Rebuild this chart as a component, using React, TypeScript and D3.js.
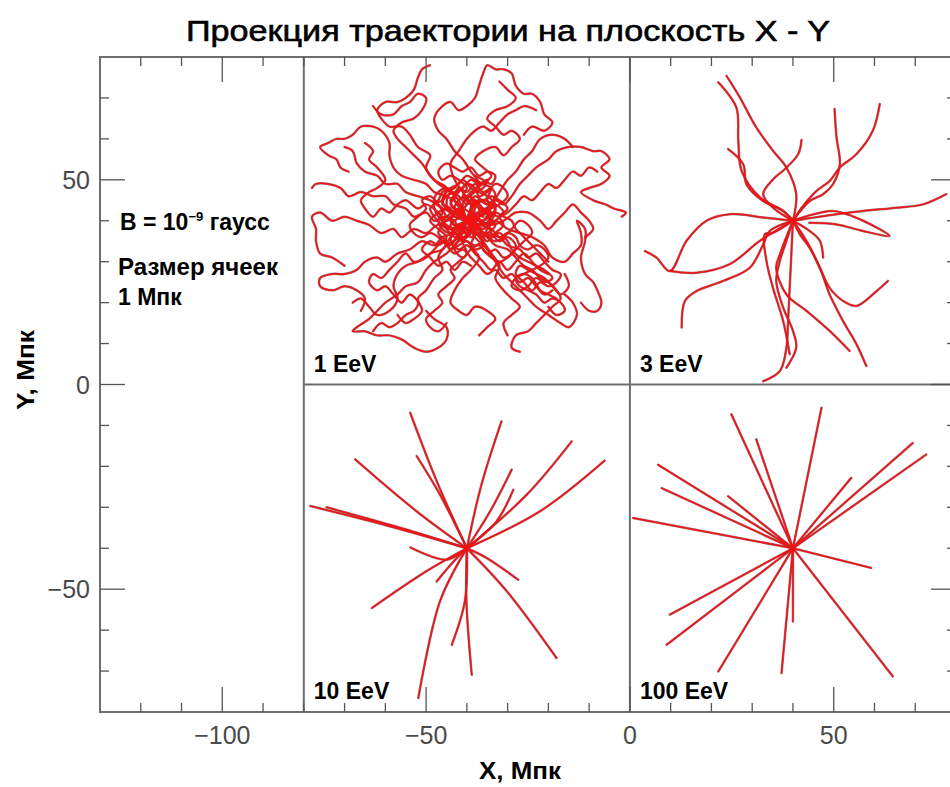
import React from "react";
import * as d3 from "d3";

type Pt = [number, number];

// Axis extents (Mpc)
const X_DOMAIN: [number, number] = [-130, 80];
const Y_DOMAIN: [number, number] = [-80, 80];

const X_TICKS = [-120, -110, -100, -90, -80, -70, -60, -50, -40, -30, -20, -10, 0, 10, 20, 30, 40, 50, 60, 70];
const Y_TICKS = [-70, -60, -50, -40, -30, -20, -10, 0, 10, 20, 30, 40, 50, 60, 70];
const X_LABELS = [-100, -50, 0, 50];
const Y_LABELS = [-50, 0, 50];

const PANEL_LABELS = ["1 EeV", "3 EeV", "10 EeV", "100 EeV"];

// 1 EeV: strongly diffusive trajectories around the source at (-40, 40)
const traj1: Pt[][] = [
  [[-40,40],[-42,43],[-44,42],[-46,45],[-45,48],[-48,50],[-50,53],[-49,56],[-52,58],[-54,61],[-56,63],[-59,63],[-61,65],[-62,67],[-60,69],[-57,69],[-55,70],[-53,72],[-52,75],[-51,77],[-49,78]],
  [[-40,40],[-38,43],[-39,46],[-37,49],[-39,52],[-41,55],[-43,57],[-45,60],[-47,62],[-48,65],[-46,68],[-44,69],[-42,67],[-40,68],[-38,70],[-37,73],[-36,76],[-35,78],[-33,77],[-31,77],[-29,76],[-28,73],[-26,71],[-24,71],[-22,69],[-21,66],[-19,64],[-21,62],[-24,63],[-26,61]],
  [[-40,40],[-37,41],[-35,43],[-33,45],[-31,44],[-29,46],[-27,49],[-25,51],[-23,53],[-20,55],[-18,57],[-15,58],[-12,58],[-9,57],[-7,57],[-5,55],[-7,53],[-5,51],[-7,49],[-10,48],[-12,47],[-9,45],[-6,44],[-4,43],[-1,42],[-2,41]],
  [[-40,40],[-43,39],[-45,41],[-48,40],[-50,42],[-53,41],[-55,43],[-58,44],[-60,46],[-63,46],[-66,47],[-69,46],[-71,48],[-74,49],[-77,49],[-78,48]],
  [[-40,40],[-42,44],[-45,46],[-48,47],[-50,49],[-53,50],[-56,51],[-58,53],[-59,56],[-59,59],[-61,62],[-63,63],[-66,63],[-68,61],[-70,60],[-72,60],[-74,59],[-76,58],[-74,56],[-72,55],[-71,53],[-69,52]],
  [[-40,40],[-43,37],[-46,36],[-48,34],[-51,35],[-54,33],[-57,32],[-60,30],[-62,31],[-65,30],[-67,28],[-70,27],[-73,27],[-76,26],[-76,24],[-73,23],[-70,24],[-67,23],[-65,21],[-66,18]],
  [[-40,40],[-44,38],[-47,39],[-50,37],[-53,38],[-56,36],[-58,38],[-61,37],[-64,39],[-67,40],[-70,41],[-73,40],[-76,42],[-78,41],[-77,38],[-77,35],[-76,32],[-73,31],[-70,29]],
  [[-40,40],[-41,37],[-43,34],[-45,32],[-48,30],[-50,28],[-52,25],[-55,24],[-57,22],[-60,20],[-62,18],[-64,16],[-67,14],[-68,13],[-65,13],[-62,12],[-59,12],[-56,11],[-53,9],[-50,8],[-47,9],[-45,11],[-45,14],[-48,16],[-50,18]],
  [[-40,40],[-38,37],[-39,34],[-37,31],[-39,28],[-41,26],[-43,23],[-44,20],[-42,18],[-40,17],[-38,19],[-35,18],[-33,16],[-35,14],[-37,12]],
  [[-40,40],[-37,38],[-35,36],[-33,34],[-30,33],[-28,31],[-26,29],[-24,28],[-22,26],[-20,25],[-18,23],[-17,21],[-19,19],[-21,17],[-23,15],[-25,13],[-28,12],[-29,9],[-27,8]],
  [[-40,40],[-36,39],[-33,40],[-30,38],[-27,37],[-24,36],[-21,34],[-19,31],[-16,30],[-14,32],[-12,34],[-12,37],[-13,40],[-11,38],[-11,35],[-12,31],[-11,27],[-9,25],[-8,23],[-7,20],[-8,18],[-10,18],[-12,20]],
  [[-40,40],[-38,36],[-35,33],[-33,30],[-31,27],[-29,25],[-27,23],[-25,21],[-23,19],[-20,17],[-17,15],[-15,14],[-13,17],[-14,20],[-16,22]],
  [[-40,40],[-39,44],[-41,47],[-43,50],[-44,54],[-42,57],[-40,60],[-38,62],[-36,63],[-34,62],[-32,64],[-30,66],[-28,67],[-26,68],[-23,67]],
  [[-40,40],[-37,42],[-34,44],[-32,47],[-30,50],[-28,52],[-26,55],[-24,57],[-22,60],[-19,61],[-16,60],[-14,58]],
  [[-40,40],[-43,42],[-46,43],[-49,45],[-52,46],[-55,47],[-57,49],[-60,49],[-62,51],[-65,52],[-67,54],[-68,57],[-70,58]],
  [[-40,40],[-44,36],[-46,33],[-49,32],[-52,30],[-55,29],[-57,27],[-58,24],[-57,21],[-59,18],[-62,17],[-64,19],[-66,21],[-68,20]],
  [[-40,40],[-42,36],[-45,34],[-47,31],[-46,28],[-48,26],[-50,23],[-52,21],[-51,18],[-53,16],[-55,15],[-57,17]],
  [[-40,40],[-38,38],[-36,35],[-34,32],[-32,29],[-33,26],[-31,23],[-29,21],[-27,19],[-29,17],[-31,15],[-30,12]],
  [[-40,40],[-38,42],[-36,41],[-37,44],[-39,45],[-41,43],[-43,45],[-42,48],[-40,47],[-38,49],[-36,47],[-34,48],[-35,45],[-33,43],[-34,40],[-36,38],[-38,39],[-40,37],[-42,38],[-44,40],[-43,42],[-41,41]],
  [[-40,40],[-41,38],[-39,36],[-37,37],[-35,35],[-33,37],[-31,39],[-32,41],[-30,43],[-32,45],[-34,46],[-36,45],[-38,46],[-40,44],[-42,46],[-44,47],[-45,44],[-44,42],[-46,40],[-45,38],[-43,36],[-41,35]],
  [[-40,40],[-39,42],[-37,40],[-35,39],[-34,37],[-32,35],[-30,36],[-28,34],[-29,32],[-31,31],[-33,33],[-35,32],[-37,34],[-39,33],[-41,31],[-43,33],[-42,35],[-40,36]],
  [[-40,40],[-42,41],[-41,43],[-39,42],[-38,45],[-36,43],[-34,42],[-36,40],[-38,41],[-37,38],[-35,37],[-33,39],[-35,41],[-33,42],[-31,41],[-29,40],[-28,38],[-26,36],[-24,34],[-22,32],[-20,30]],
  [[-40,40],[-43,41],[-45,43],[-47,42],[-49,40],[-47,38],[-45,36],[-47,34],[-49,35],[-51,33],[-49,31],[-47,29],[-45,30],[-43,28],[-41,30],[-39,29]],
  [[-40,40],[-39,38],[-41,36],[-43,37],[-44,35],[-42,33],[-40,34],[-38,32],[-36,30],[-34,28],[-32,30],[-30,28],[-28,30],[-26,32],[-24,30],[-22,28],[-20,27]],
  [[-40,40],[-36,37],[-32,36],[-30,34],[-27,33],[-25,31],[-23,32],[-21,30],[-19,28],[-17,27],[-18,25],[-20,24],[-22,25],[-24,23],[-26,25],[-28,27],[-27,29],[-25,28],[-23,27],[-21,26],[-19,24],[-17,22],[-15,24],[-16,27]],
  [[-40,40],[-41,42],[-43,43],[-44,45],[-42,47],[-40,49],[-38,48],[-37,46],[-35,47],[-33,49],[-31,48],[-30,46],[-32,44],[-34,43],[-36,42],[-38,40],[-37,38],[-35,36],[-33,35],[-31,36],[-29,38],[-27,40],[-25,39],[-24,37],[-26,35],[-28,33],[-30,31],[-32,30],[-34,31],[-36,33]],
  [[-40,40],[-42,39],[-44,37],[-46,38],[-47,40],[-46,42],[-47,44],[-49,46],[-51,45],[-50,43],[-52,41],[-54,39],[-53,37],[-51,36],[-49,37],[-47,36],[-45,34],[-43,32],[-41,33],[-39,31],[-37,29],[-35,27],[-33,28],[-31,26],[-29,27],[-27,25],[-25,26],[-23,24],[-21,22],[-19,23]],
  [[-40,40],[-38,41],[-37,43],[-39,44],[-41,46],[-40,48],[-42,50],[-44,51],[-46,50],[-47,52],[-45,54],[-43,53],[-41,52],[-39,53],[-37,51],[-35,52],[-33,51],[-34,49],[-36,50],[-38,51]],
  [[-40,40],[-37,39],[-34,38],[-32,36],[-30,37],[-28,36],[-27,34],[-25,33],[-23,34],[-21,33],[-20,31],[-22,29],[-24,28],[-26,27],[-28,26],[-27,24],[-25,23],[-23,22],[-21,20],[-19,21],[-17,20],[-16,18],[-18,17],[-20,19]],
  [[-40,40],[-41,44],[-39,47],[-36,49],[-34,51],[-36,53],[-38,55],[-36,57],[-33,58],[-31,56],[-29,58],[-27,60],[-29,62],[-31,61],[-33,63],[-35,65],[-33,67],[-30,68],[-28,70],[-30,72],[-32,74]],
  [[-40,40],[-42,42],[-45,40],[-47,42],[-50,44],[-52,43],[-55,45],[-57,44],[-59,42],[-61,43],[-63,41],[-65,43],[-66,45],[-64,47],[-62,48],[-60,50],[-62,53],[-64,55],[-63,57],[-65,59]],
  [[-40,40],[-42,37],[-44,34],[-46,35],[-48,33],[-50,31],[-53,30],[-55,32],[-57,30],[-59,28],[-61,26],[-63,27],[-64,25],[-62,23],[-60,24],[-58,22],[-56,20],[-54,22],[-52,20],[-53,18],[-55,17],[-57,15],[-59,14],[-61,15],[-63,13]],
  [[-40,40],[-37,41],[-35,42],[-32,41],[-30,42],[-28,44],[-26,46],[-24,45],[-22,47],[-20,49],[-18,48],[-16,50],[-14,52],[-12,51],[-10,53],[-8,52]],
  [[-40,40],[-42,45],[-44,47],[-47,49],[-49,51],[-51,54],[-53,56],[-55,58],[-57,60],[-58,62],[-56,64],[-53,65],[-51,67],[-50,70],[-52,71],[-54,69],[-56,68],[-58,66],[-61,66],[-63,68]],
  [[-40,40],[-39,37],[-41,35],[-40,32],[-42,30],[-44,28],[-43,26],[-45,24],[-47,22],[-46,20],[-48,18],[-50,16],[-49,14],[-47,13],[-45,15]],
  [[-40,40],[-37,40],[-34,39],[-31,40],[-28,42],[-25,42],[-22,40],[-20,38],[-18,40],[-16,42],[-14,44],[-12,42],[-10,40],[-9,38],[-11,36]],
  [[-40,40],[-39,41],[-38,39],[-36,40],[-35,42],[-37,43],[-38,45],[-40,46],[-42,45],[-43,43],[-42,41],[-44,39],[-43,37],[-41,37],[-39,38],[-37,36],[-36,34],[-38,33],[-40,35],[-42,34],[-44,33],[-45,35],[-47,37],[-46,39],[-44,41]],
  [[-40,40],[-38,41],[-36,39],[-34,41],[-33,44],[-35,46],[-37,47],[-39,48],[-41,50],[-43,48],[-45,47],[-46,45],[-48,44],[-47,41],[-45,39],[-43,38],[-41,39]],
  [[-40,40],[-41,42],[-43,41],[-44,43],[-46,44],[-45,46],[-43,47],[-41,48],[-39,50],[-37,49],[-35,50],[-36,48],[-38,47],[-40,45],[-38,44],[-36,45],[-34,44],[-35,42],[-37,41],[-39,39],[-41,38],[-43,39]],
  [[-40,40],[-38,39],[-36,37],[-34,36],[-32,37],[-30,35],[-29,33],[-27,31],[-25,30],[-23,29],[-21,28],[-19,26],[-21,25],[-23,26],[-25,24],[-27,23],[-29,24],[-28,26],[-26,27],[-24,26],[-22,23],[-20,22],[-18,21]],
  [[-40,40],[-42,42],[-44,44],[-43,46],[-45,48],[-47,47],[-48,45],[-46,43],[-45,41],[-43,40],[-42,38],[-40,38],[-38,37],[-36,36],[-35,38],[-33,40],[-31,42],[-33,44],[-35,44],[-37,45],[-39,43]],
  [[-40,40],[-39,43],[-37,45],[-35,44],[-33,46],[-34,48],[-36,49],[-38,50],[-40,51],[-42,49],[-44,48],[-46,47],[-47,45],[-49,43],[-48,41],[-46,39],[-44,38],[-42,36],[-40,35],[-38,34],[-36,35]],
];

// 3 EeV: curved trajectories from the source at (40, 40)
const traj3: Pt[][] = [
  [[40,40],[40.8,46.5],[38.4,53],[35.1,57.1],[31,62.8],[27,70.1],[23.7,75.4]],
  [[40,40],[37.6,42.4],[31.9,45.7],[27.4,52.2],[26.6,59.5],[26.1,67.7],[21.7,73.8]],
  [[40,40],[35.1,43.2],[32.7,46.5],[35.1,50.1],[38,52.6],[41.3,56.3],[42.1,59.7]],
  [[40,40],[37.6,42.4],[32.7,44.8],[28.6,48.9],[27.8,53.8],[24.1,57.5]],
  [[40,40],[44.1,44.8],[47.4,46.5],[49.8,48.9],[51.5,53.8],[50.7,60.3],[50.2,67.3]],
  [[40,40],[42,43],[45.8,47.3],[49,49.7],[51.5,53],[55.6,56.3],[59.6,62],[61.3,68.5]],
  [[40,40],[50.7,41.6],[57.2,42.4],[65.4,43.2],[71.9,44],[77.6,46.5]],
  [[40,40],[49.8,42.4],[57.2,40],[63.7,36.3],[57.2,37.5],[50.7,39.1],[44,39.5]],
  [[40,40],[32.7,40.8],[24.5,41.6],[18.8,40],[13.9,35.1],[9.8,27.7],[6.5,31],[3.7,32.6]],
  [[40,40],[31.9,35.1],[24.5,29.4],[16.3,27.3],[9.8,27.7]],
  [[40,40],[34.3,37.5],[32.7,34.2],[29.4,28.5],[22.9,25.3],[16.3,22.8],[13.5,20.4],[12.7,13.9]],
  [[40,40],[39.6,31.8],[39.2,23.6],[38.8,15.5],[38.4,9],[36.8,3.3],[32.7,0.8]],
  [[40,40],[38.4,35.1],[36.8,30.2],[35.9,25.3],[37.6,18.8],[40,13.1],[40.8,9],[38.4,4.1]],
  [[40,40],[35,37],[33.1,36.7],[33.5,30.2],[35.1,23.6],[37.6,15.5],[39.2,7.4]],
  [[40,40],[43.3,35.1],[46.6,28.5],[49,22],[52.3,15.5],[55.6,9.8],[58,4.5]],
  [[40,40],[36.8,31.8],[35.9,28.5],[38.4,22],[43.3,18],[49,13.1],[53.9,8.2]],
  [[40,40],[41.7,36.7],[44.1,33.4],[46.6,28.5],[49,23.6],[52.3,20.4],[55.6,19.2],[60.5,22.8],[63.3,25.3]],
  [[40,40],[44.1,37.5],[46.6,35.1],[47.4,31]],
];

// 10 EeV: nearly straight trajectories from (-40, -40)
const traj10: Pt[][] = [
  [[-40,-40],[-47.4,-23.6],[-53.9,-6.9]],
  [[-40,-40],[-46.6,-26.9],[-52.3,-17.5]],
  [[-40,-40],[-52.3,-31],[-67.4,-18.3]],
  [[-40,-40],[-60.5,-34.2],[-78.4,-29.7]],
  [[-40,-40],[-56.4,-35],[-74.4,-30]],
  [[-40,-40],[-36.4,-24.4],[-31.5,-9]],
  [[-40,-40],[-34.3,-31],[-29,-20.8]],
  [[-40,-40],[-32.7,-33.4],[-28.6,-25.7]],
  [[-40,-40],[-25.3,-26.9],[-14.3,-13.9]],
  [[-40,-40],[-22.1,-31],[-6.2,-18.6]],
  [[-40,-40],[-45,-42.8],[-53.9,-39.8]],
  [[-40,-40],[-49.9,-45.6],[-63.3,-54.6]],
  [[-40,-40],[-46.6,-53],[-51.9,-76.6]],
  [[-40,-40],[-40.5,-53],[-43.7,-63.6]],
  [[-40,-40],[-40.1,-53],[-38.8,-70.9]],
  [[-40,-40],[-35.1,-42.4],[-27.4,-47.7]],
  [[-40,-40],[-30.2,-50.5],[-18,-66.8]],
  [[-40,-40],[-43.5,-43.5],[-47.4,-48.1]],
];

// 100 EeV: straight rays from (40, -40)
const traj100: Pt[][] = [
  [[40,-40],[47,-5.7]],
  [[40,-40],[24.9,-7.3]],
  [[40,-40],[31,-13.4]],
  [[40,-40],[6.9,-19.6]],
  [[40,-40],[7.8,-25.3]],
  [[40,-40],[24.1,-27.3]],
  [[40,-40],[0.8,-32.6]],
  [[40,-40],[69.4,-14.3]],
  [[40,-40],[72.7,-17.1]],
  [[40,-40],[54.3,-22.8]],
  [[40,-40],[59.2,-44.8]],
  [[40,-40],[64.5,-71.3]],
  [[40,-40],[40,-57.9]],
  [[40,-40],[37.2,-70.5]],
  [[40,-40],[21.7,-70.1]],
  [[40,-40],[9,-63.6]],
  [[40,-40],[9.8,-56.2]],
];

const W = 950;
const H = 787;
const PLOT = { left: 100, right: 956, top: 57, bottom: 712 };
const FONT = "'Liberation Sans', Arial, Helvetica, sans-serif";

export default function App() {
  const x = d3.scaleLinear().domain(X_DOMAIN).range([PLOT.left, PLOT.right]);
  const y = d3.scaleLinear().domain(Y_DOMAIN).range([PLOT.bottom, PLOT.top]);

  const straight = d3.line<Pt>().x((d) => x(d[0])).y((d) => y(d[1]));
  const smooth = d3
    .line<Pt>()
    .x((d) => x(d[0]))
    .y((d) => y(d[1]))
    .curve(d3.curveCatmullRom.alpha(0.5));

  const groups: { data: Pt[][]; gen: d3.Line<Pt> }[] = [
    { data: traj1, gen: smooth },
    { data: traj3, gen: smooth },
    { data: traj10, gen: smooth },
    { data: traj100, gen: straight },
  ];

  const frameColor = "#6e6e6e";
  const tickColor = "#555";
  const majorLen = 25;
  const minorLen = 9;

  // lower-left corner of each panel, for the energy labels
  const panelCorners: Pt[] = [
    [-80, 0],
    [0, 0],
    [-80, -80],
    [0, -80],
  ];

  return (
    <div style={{ position: "absolute", left: 0, top: 0, width: W, height: H, background: "#fff" }}>
      <svg width={W} height={H} viewBox={`0 0 ${W} ${H}`} style={{ display: "block" }}>
        <defs>
          <clipPath id="plot-clip">
            <rect x={PLOT.left} y={PLOT.top} width={PLOT.right - PLOT.left} height={PLOT.bottom - PLOT.top} />
          </clipPath>
        </defs>
        <rect width={W} height={H} fill="#fff" />

        {/* title */}
        <text
          x={508}
          y={41}
          textAnchor="middle"
          fontFamily={FONT}
          fontSize={30}
          fill="#000"
          stroke="#000"
          strokeWidth={0.6}
          textLength={644}
          lengthAdjust="spacingAndGlyphs"
        >
          Проекция траектории на плоскость X - Y
        </text>

        {/* trajectories */}
        <g clipPath="url(#plot-clip)" fill="none" strokeLinejoin="round" strokeLinecap="round">
          {groups.map((g, gi) => (
            <g key={gi}>
              {g.data.map((t, i) => (
                <path key={`u${i}`} d={g.gen(t) || ""} stroke="#7d3947" strokeWidth={2.5} strokeOpacity={0.7} />
              ))}
              {g.data.map((t, i) => (
                <path key={`r${i}`} d={g.gen(t) || ""} stroke="#f21212" strokeWidth={1.5} />
              ))}
            </g>
          ))}
        </g>

        {/* frame and panel dividers */}
        <g stroke={frameColor} strokeWidth={2} fill="none">
          <rect x={PLOT.left} y={PLOT.top} width={PLOT.right - PLOT.left} height={PLOT.bottom - PLOT.top} />
          <line x1={x(-80)} x2={x(-80)} y1={y(80)} y2={y(-80)} />
          <line x1={x(0)} x2={x(0)} y1={y(80)} y2={y(-80)} />
          <line x1={x(-80)} x2={x(80)} y1={y(0)} y2={y(0)} />
        </g>

        {/* ticks */}
        <g stroke={tickColor} strokeWidth={1.3}>
          {X_TICKS.map((t) => {
            const len = t % 50 === 0 ? majorLen : minorLen;
            return (
              <g key={`xt${t}`}>
                <line x1={x(t)} x2={x(t)} y1={PLOT.bottom} y2={PLOT.bottom - len} />
                <line x1={x(t)} x2={x(t)} y1={PLOT.top} y2={PLOT.top + len} />
              </g>
            );
          })}
          {Y_TICKS.map((t) => {
            const len = t % 50 === 0 ? majorLen : minorLen;
            return (
              <g key={`yt${t}`}>
                <line x1={PLOT.left} x2={PLOT.left + len} y1={y(t)} y2={y(t)} />
                <line x1={PLOT.right} x2={PLOT.right - len} y1={y(t)} y2={y(t)} />
              </g>
            );
          })}
        </g>

        {/* tick labels */}
        <g fontFamily={FONT} fontSize={25} fill="#4a4a4a">
          {X_LABELS.map((t) => (
            <text key={`xl${t}`} x={x(t)} y={744} textAnchor="middle">
              {t < 0 ? `\u2212${Math.abs(t)}` : `${t}`}
            </text>
          ))}
          {Y_LABELS.map((t) => (
            <text key={`yl${t}`} x={90} y={y(t) + 9} textAnchor="end">
              {t < 0 ? `\u2212${Math.abs(t)}` : `${t}`}
            </text>
          ))}
        </g>

        {/* axis titles */}
        <text
          x={520}
          y={779}
          textAnchor="middle"
          fontFamily={FONT}
          fontWeight="bold"
          fontSize={23}
          fill="#000"
          textLength={82}
          lengthAdjust="spacingAndGlyphs"
        >
          X, Мпк
        </text>
        <text
          transform={`translate(34, 370) rotate(-90)`}
          textAnchor="middle"
          fontFamily={FONT}
          fontWeight="bold"
          fontSize={23}
          fill="#000"
          textLength={80}
          lengthAdjust="spacingAndGlyphs"
        >
          Y, Мпк
        </text>

        {/* annotations in the empty left column */}
        <g fontFamily={FONT} fontWeight="bold" fill="#000">
          <text x={120} y={230} fontSize={23}>
            B = 10
            <tspan dy={-9} fontSize={13}>
              −9
            </tspan>
            <tspan dy={9} fontSize={23}>
              {" "}гаусс
            </tspan>
          </text>
          <text x={118} y={275} fontSize={23} textLength={160} lengthAdjust="spacingAndGlyphs">
            Размер ячеек
          </text>
          <text x={118} y={305} fontSize={23}>
            1 Мпк
          </text>
        </g>

        {/* energy labels */}
        <g fontFamily={FONT} fontWeight="bold" fontSize={23} fill="#000">
          {PANEL_LABELS.map((label, i) => (
            <text key={label} x={x(panelCorners[i][0]) + 10} y={y(panelCorners[i][1]) - 13}>
              {label}
            </text>
          ))}
        </g>
      </svg>
    </div>
  );
}
